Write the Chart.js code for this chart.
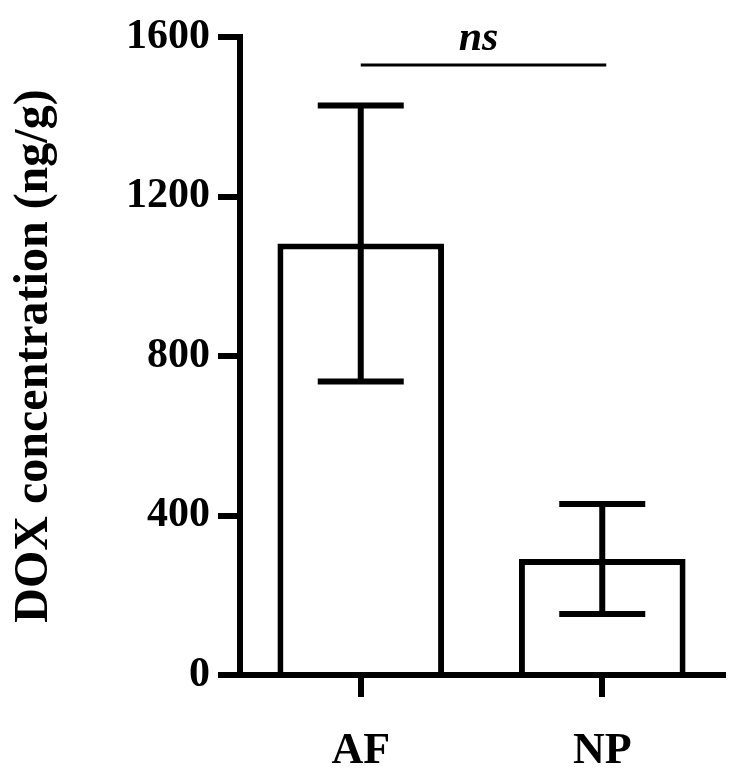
<!DOCTYPE html>
<html>
<head>
<meta charset="utf-8">
<script src="https://cdn.jsdelivr.net/npm/chart.js@4/dist/chart.umd.min.js"></script>
<style>
  html, body { margin: 0; padding: 0; background: #fff; }
  #wrap { width: 742px; height: 783px; }
</style>
</head>
<body>
<div id="wrap"><canvas id="c" width="742" height="783"></canvas></div>
<script>
// ---- data ----
const categories = ['AF', 'NP'];
const meanValues = [1082, 291];
const sdValues = [346, 138];
const yTickValues = [0, 400, 800, 1200, 1600];
const yTitle = 'DOX concentration (ng/g)';
const sigLabel = 'ns';
const sigLevel = 1530;

const FONT = "'Liberation Serif', 'Times New Roman', serif";

const errorBarPlugin = {
  id: 'errorBars',
  afterDatasetsDraw(chart) {
    const ctx = chart.ctx;
    const xs = chart.scales.x, ys = chart.scales.y;
    ctx.save();
    ctx.strokeStyle = '#000';
    ctx.lineWidth = 6;
    ctx.lineCap = 'butt';
    const capHalf = 43;
    meanValues.forEach((m, i) => {
      const x = xs.getPixelForValue(i);
      const yt = ys.getPixelForValue(m + sdValues[i]);
      const yb = ys.getPixelForValue(m - sdValues[i]);
      ctx.beginPath();
      ctx.moveTo(x, yt); ctx.lineTo(x, yb);
      ctx.moveTo(x - capHalf, yt); ctx.lineTo(x + capHalf, yt);
      ctx.moveTo(x - capHalf, yb); ctx.lineTo(x + capHalf, yb);
      ctx.stroke();
    });
    // significance line
    const x0 = xs.getPixelForValue(0);
    const x1 = xs.getPixelForValue(1) + 4;
    const yl = ys.getPixelForValue(sigLevel);
    ctx.lineWidth = 3;
    ctx.beginPath();
    ctx.moveTo(x0, yl); ctx.lineTo(x1, yl);
    ctx.stroke();
    ctx.fillStyle = '#000';
    ctx.font = "italic bold 42px " + FONT;
    ctx.textAlign = 'center';
    ctx.textBaseline = 'alphabetic';
    ctx.fillText(sigLabel, (x0 + x1) / 2 - 5, yl - 15);
    ctx.restore();
  }
};

function draw() {
  new Chart(document.getElementById('c'), {
    type: 'bar',
    data: {
      labels: categories,
      datasets: [{
        data: meanValues,
        backgroundColor: '#fff',
        borderColor: '#000',
        borderWidth: 6,
        borderSkipped: 'start',
        barPercentage: 0.69,
        categoryPercentage: 1
      }]
    },
    options: {
      responsive: false,
      devicePixelRatio: 1,
      animation: false,
      layout: { padding: { top: 37, right: 19, bottom: 0, left: 0 } },
      plugins: { legend: { display: false }, tooltip: { enabled: false } },
      scales: {
        x: {
          offset: true,
          grid: { offset: false, drawOnChartArea: false, drawTicks: true, tickLength: 22, lineWidth: 6, color: '#000' },
          border: { display: true, width: 6, color: '#000' },
          ticks: { color: '#000', font: { family: FONT, size: 44, weight: 'bold' }, padding: 28 },
          afterFit(s) { s.height = 108; }
        },
        y: {
          min: 0, max: 1600,
          afterBuildTicks(s) { s.ticks = yTickValues.map(v => ({ value: v })); },
          grid: { drawOnChartArea: false, drawTicks: true, tickLength: 22, lineWidth: 6, color: '#000' },
          border: { display: true, width: 6, color: '#000' },
          ticks: {
            color: '#000', font: { family: FONT, size: 42, weight: 'bold' }, padding: 8,
            callback: (v) => String(v)
          },
          title: {
            display: true, text: yTitle, color: '#000',
            font: { family: FONT, size: 48, weight: 'bold' },
            padding: { top: 6, bottom: 0 }
          },
          afterFit(s) { s.width = 240; }
        }
      }
    },
    plugins: [errorBarPlugin]
  });
}

Promise.all([
  document.fonts.load("bold 44px 'Liberation Serif'"),
  document.fonts.load("italic bold 42px 'Liberation Serif'")
]).then(draw, draw);
</script>
</body>
</html>
